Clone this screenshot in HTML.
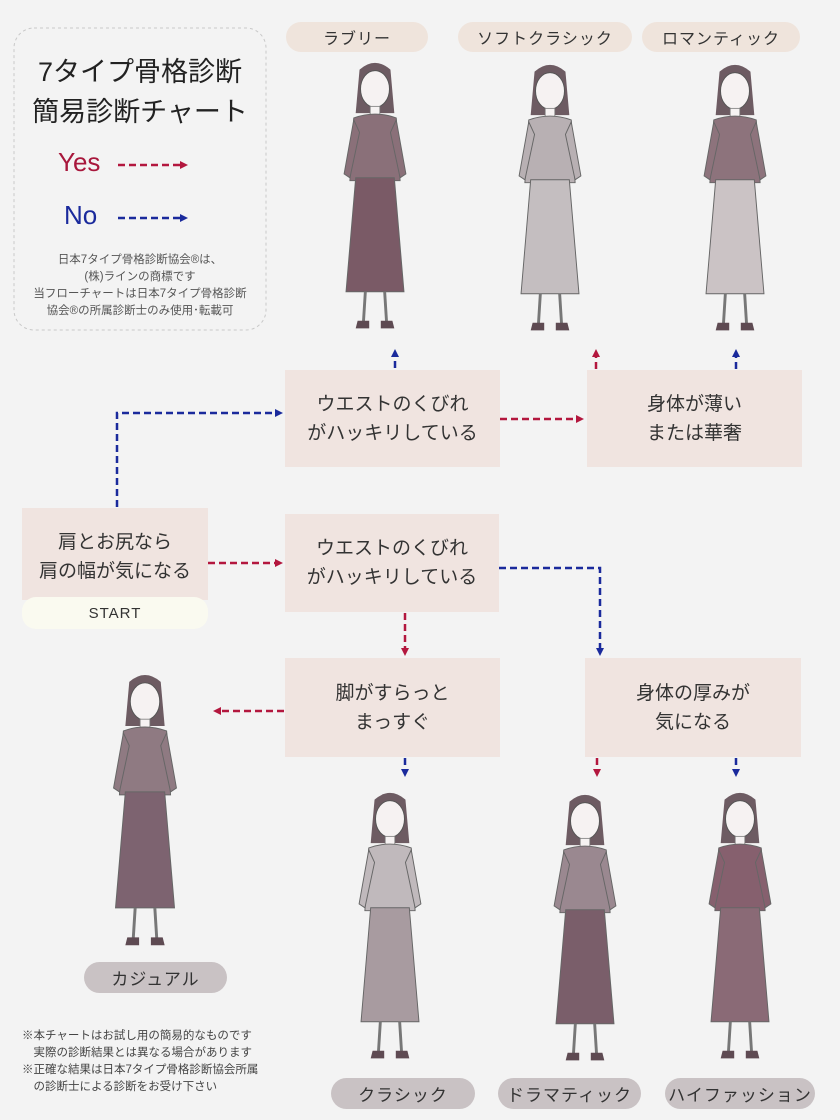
<!DOCTYPE html>
<html><head><meta charset="utf-8"><style>
body{margin:0;background:#f3f3f3;}
#c{position:relative;width:840px;height:1120px;overflow:hidden;background:#f3f3f3;font-family:"Liberation Sans","Noto Sans CJK JP",sans-serif;color:#333;}
.box{position:absolute;background:#f0e4e0;display:flex;align-items:center;justify-content:center;text-align:center;font-size:19px;line-height:29px;color:#333;}
.pill{position:absolute;border-radius:16px;display:flex;align-items:center;justify-content:center;font-size:16px;color:#333;letter-spacing:1px;}
.top{background:#efe4dc;}
.bot{background:#c9c2c4;font-size:17px;}
</style></head><body><div id="c">
<svg width="840" height="1120" style="position:absolute;left:0;top:0">
<defs>
<marker id="ar" markerWidth="8" markerHeight="8" refX="5" refY="4" orient="auto" markerUnits="userSpaceOnUse"><path d="M0,0 L8,4 L0,8z" fill="#b3173e"/></marker>
<marker id="ab" markerWidth="8" markerHeight="8" refX="5" refY="4" orient="auto" markerUnits="userSpaceOnUse"><path d="M0,0 L8,4 L0,8z" fill="#1a2a9c"/></marker>
<symbol id="fig" viewBox="0 0 100 290" overflow="visible">
<path d="M34,10 Q50,-4 66,10 L70,55 L30,55z" fill="#6d5b62"/>
<ellipse cx="50" cy="30" rx="15" ry="19" fill="#f6f2f2" stroke="#555" stroke-width="1"/>
<rect x="45" y="48" width="10" height="10" fill="#f6f2f2" stroke="#777" stroke-width="0.8"/>
<path d="M28,60 Q50,52 72,60 L76,125 L24,125z" fill="currentColor" stroke="#666" stroke-width="1"/>
<path d="M28,62 L18,118 L24,122 L34,75z M72,62 L82,118 L76,122 L66,75z" fill="currentColor" stroke="#666" stroke-width="1"/>
<path d="M30,122 L70,122 L80,240 L20,240z" fill="var(--sk)" stroke="#666" stroke-width="1"/>
<path d="M40,240 L38,272 M60,240 L62,272" stroke="#777" stroke-width="3"/>
<path d="M32,270 h12 v8 h-14z M56,270 h12 l2,8 h-14z" fill="#5e4a52"/>
</symbol>
</defs>
<rect x="14" y="28" width="252" height="302" rx="20" fill="none" stroke="#c8c8c8" stroke-dasharray="3,3"/>
<g stroke-width="2.5" stroke-dasharray="7,4" fill="none">
<line x1="118" y1="165" x2="185" y2="165" stroke="#b3173e" marker-end="url(#ar)"/>
<line x1="118" y1="218" x2="185" y2="218" stroke="#1a2a9c" marker-end="url(#ab)"/>
<polyline points="117,507 117,413 280,413" stroke="#1a2a9c" marker-end="url(#ab)"/>
<line x1="395" y1="368" x2="395" y2="352" stroke="#1a2a9c" marker-end="url(#ab)"/>
<line x1="500" y1="419" x2="581" y2="419" stroke="#b3173e" marker-end="url(#ar)"/>
<line x1="596" y1="369" x2="596" y2="352" stroke="#b3173e" marker-end="url(#ar)"/>
<line x1="736" y1="369" x2="736" y2="352" stroke="#1a2a9c" marker-end="url(#ab)"/>
<line x1="208" y1="563" x2="280" y2="563" stroke="#b3173e" marker-end="url(#ar)"/>
<polyline points="499,568 600,568 600,653" stroke="#1a2a9c" marker-end="url(#ab)"/>
<line x1="405" y1="613" x2="405" y2="653" stroke="#b3173e" marker-end="url(#ar)"/>
<line x1="284" y1="711" x2="216" y2="711" stroke="#b3173e" marker-end="url(#ar)"/>
<line x1="405" y1="758" x2="405" y2="774" stroke="#1a2a9c" marker-end="url(#ab)"/>
<line x1="597" y1="758" x2="597" y2="774" stroke="#b3173e" marker-end="url(#ar)"/>
<line x1="736" y1="758" x2="736" y2="774" stroke="#1a2a9c" marker-end="url(#ab)"/>
</g>
<use href="#fig" x="325" y="60" width="100" height="280" style="color:#8a7079;--sk:#7a5a66"/>
<use href="#fig" x="500" y="62" width="100" height="280" style="color:#b8b0b3;--sk:#c4bec0"/>
<use href="#fig" x="685" y="62" width="100" height="280" style="color:#8d737c;--sk:#cbc3c5"/>
<use href="#fig" x="95" y="672" width="100" height="285" style="color:#8f7a82;--sk:#7d6370"/>
<use href="#fig" x="340" y="790" width="100" height="280" style="color:#c0b9bc;--sk:#a89ba0"/>
<use href="#fig" x="535" y="792" width="100" height="280" style="color:#9a8890;--sk:#7a5e6a"/>
<use href="#fig" x="690" y="790" width="100" height="280" style="color:#86606e;--sk:#8a6a76"/>
</svg>
<div style="position:absolute;left:14px;top:52px;width:252px;text-align:center;font-size:27px;line-height:40px;color:#222;">7タイプ骨格診断<br>簡易診断チャート</div>
<div style="position:absolute;left:58px;top:147px;font-size:26px;color:#a8173c;">Yes</div>
<div style="position:absolute;left:64px;top:200px;font-size:26px;color:#1a2a9c;">No</div>
<div style="position:absolute;left:14px;top:252px;width:252px;text-align:center;font-size:11.5px;line-height:17px;color:#555;">日本7タイプ骨格診断協会®は、<br>(株)ラインの商標です<br>当フローチャートは日本7タイプ骨格診断<br>協会®の所属診断士のみ使用･転載可</div>
<div class="pill top" style="left:286px;top:22px;width:142px;height:30px;">ラブリー</div>
<div class="pill top" style="left:458px;top:22px;width:174px;height:30px;">ソフトクラシック</div>
<div class="pill top" style="left:642px;top:22px;width:158px;height:30px;">ロマンティック</div>
<div class="box" style="left:285px;top:370px;width:215px;height:97px;">ウエストのくびれ<br>がハッキリしている</div>
<div class="box" style="left:587px;top:370px;width:215px;height:97px;">身体が薄い<br>または華奢</div>
<div class="box" style="left:22px;top:508px;width:186px;height:92px;align-items:flex-start;padding-top:0;"><div style="margin-top:20px">肩とお尻なら<br>肩の幅が気になる</div></div>
<div class="pill" style="left:22px;top:597px;width:186px;height:32px;background:#fafaf0;border-radius:14px;font-size:15px;">START</div>
<div class="box" style="left:285px;top:514px;width:214px;height:98px;">ウエストのくびれ<br>がハッキリしている</div>
<div class="box" style="left:285px;top:658px;width:215px;height:99px;">脚がすらっと<br>まっすぐ</div>
<div class="box" style="left:585px;top:658px;width:216px;height:99px;">身体の厚みが<br>気になる</div>
<div class="pill bot" style="left:84px;top:962px;width:143px;height:31px;">カジュアル</div>
<div class="pill bot" style="left:331px;top:1078px;width:144px;height:31px;">クラシック</div>
<div class="pill bot" style="left:498px;top:1078px;width:143px;height:31px;">ドラマティック</div>
<div class="pill bot" style="left:665px;top:1078px;width:150px;height:31px;">ハイファッション</div>
<div style="position:absolute;left:22px;top:1028px;font-size:11.5px;line-height:17px;color:#444;white-space:pre;">※本チャートはお試し用の簡易的なものです
　実際の診断結果とは異なる場合があります
※正確な結果は日本7タイプ骨格診断協会所属
　の診断士による診断をお受け下さい</div>
</div></body></html>
